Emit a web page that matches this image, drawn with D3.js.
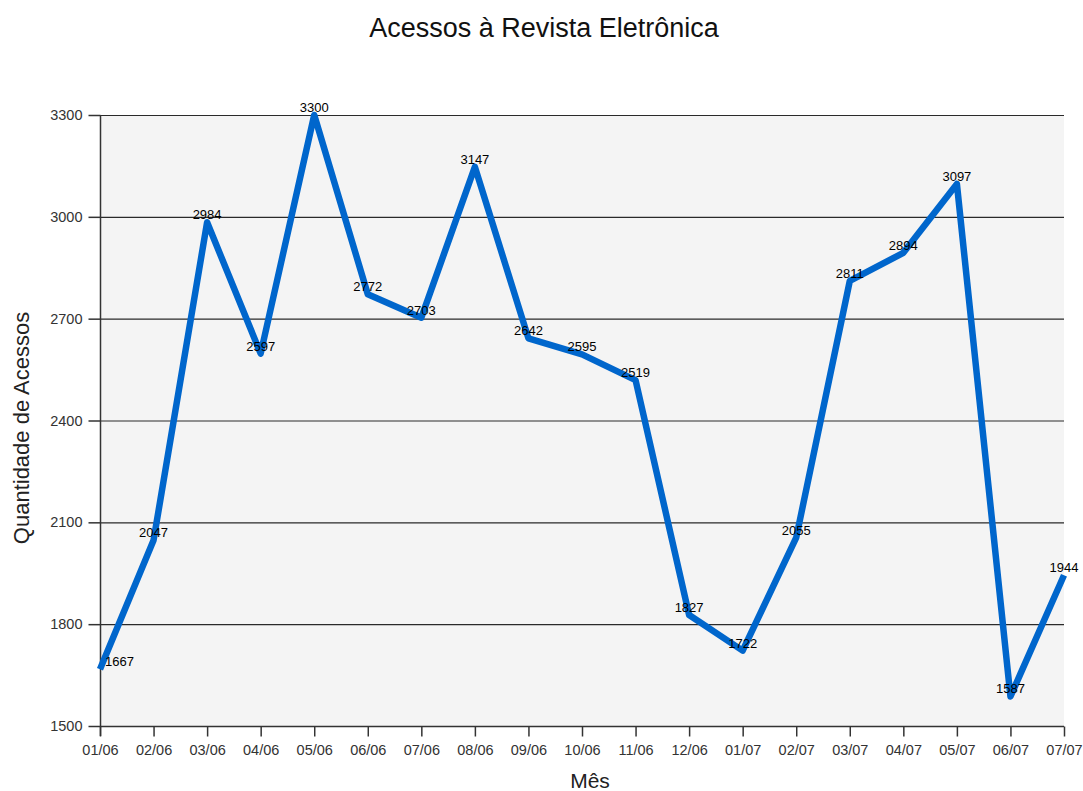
<!DOCTYPE html>
<html>
<head>
<meta charset="utf-8">
<script src="https://cdn.jsdelivr.net/npm/d3@7"></script>
<style>
body { margin: 0; background: #fff; }
text { font-family: "Liberation Sans", Arial, sans-serif; }
</style>
</head>
<body>
<div id="chart"></div>
<script>
// months and accesses
var meses = ["01/06", "02/06", "03/06", "04/06", "05/06", "06/06", "07/06", "08/06", "09/06", "10/06",
             "11/06", "12/06", "01/07", "02/07", "03/07", "04/07", "05/07", "06/07", "07/07"];
var acessos = [1667, 2047, 2984, 2597, 3300, 2772, 2703, 3147, 2642, 2595,
               2519, 1827, 1722, 2055, 2811, 2894, 3097, 1587, 1944];
var y_ticks = [1500, 1800, 2100, 2400, 2700, 3000, 3300];

var width = 1083, height = 791;
var margin = {top: 115, right: 19, bottom: 65, left: 100};
var w = width - margin.left - margin.right;
var h = height - margin.top - margin.bottom;

var svg = d3.select("#chart").append("svg")
    .attr("width", width)
    .attr("height", height);

var g = svg.append("g")
    .attr("transform", "translate(" + margin.left + "," + margin.top + ")");

var x = d3.scalePoint().domain(meses).range([0, w]);
var y = d3.scaleLinear().domain([1500, 3300]).range([h, 0]);

// plot background
g.append("rect")
    .attr("width", w).attr("height", h)
    .attr("fill", "#f4f4f4");

// gridlines
g.append("g").selectAll("line").data(y_ticks).enter().append("line")
    .attr("x1", 0).attr("x2", w)
    .attr("y1", function(d) { return y(d) + 0.5; })
    .attr("y2", function(d) { return y(d) + 0.5; })
    .attr("stroke", "#2a2a2a").attr("stroke-width", 1.2);

// y axis
var yAxis = g.append("g")
    .attr("transform", "translate(0.5,0)")
    .call(d3.axisLeft(y).tickValues(y_ticks).tickSize(12).tickPadding(6).tickFormat(d3.format("d")));
yAxis.select(".domain").attr("stroke", "#333").attr("stroke-width", 1.5).attr("d", "M0," + (h + 10) + "V0");
yAxis.selectAll(".tick line").attr("stroke", "#333").attr("stroke-width", 1.5);
yAxis.selectAll("text").attr("fill", "#333").style("font-size", "14.5px");

// x axis
var xAxis = g.append("g")
    .attr("transform", "translate(0," + (h + 0.5) + ")")
    .call(d3.axisBottom(x).tickSize(10).tickPadding(8));
xAxis.select(".domain").attr("stroke", "#333").attr("stroke-width", 1.5).attr("d", "M0,0H" + w);
xAxis.selectAll(".tick line").attr("stroke", "#333").attr("stroke-width", 1.5);
xAxis.selectAll("text").attr("fill", "#333").style("font-size", "14.5px");

// the line
var line = d3.line()
    .x(function(d, i) { return x(meses[i]); })
    .y(function(d) { return y(d); });

g.append("path")
    .datum(acessos)
    .attr("d", line)
    .attr("fill", "none")
    .attr("stroke", "#0066cc")
    .attr("stroke-width", 6.5)
    .attr("stroke-linejoin", "round");

// value labels
g.append("g").selectAll("text").data(acessos).enter().append("text")
    .attr("x", function(d, i) { return i == 0 ? x(meses[i]) + 5 : x(meses[i]); })
    .attr("y", function(d) { return y(d) - 3; })
    .attr("text-anchor", function(d, i) { return i == 0 ? "start" : "middle"; })
    .style("font-size", "13px")
    .attr("fill", "#000")
    .text(function(d) { return d; });

// titles
svg.append("text")
    .attr("x", 544).attr("y", 37)
    .attr("text-anchor", "middle")
    .style("font-size", "27px")
    .attr("fill", "#111")
    .text("Acessos à Revista Eletrônica");

svg.append("text")
    .attr("x", 590).attr("y", 788)
    .attr("text-anchor", "middle")
    .style("font-size", "21px")
    .attr("fill", "#222")
    .text("Mês");

svg.append("text")
    .attr("transform", "translate(29,428) rotate(-90)")
    .attr("text-anchor", "middle")
    .style("font-size", "22px")
    .attr("fill", "#222")
    .text("Quantidade de Acessos");
</script>
</body>
</html>
